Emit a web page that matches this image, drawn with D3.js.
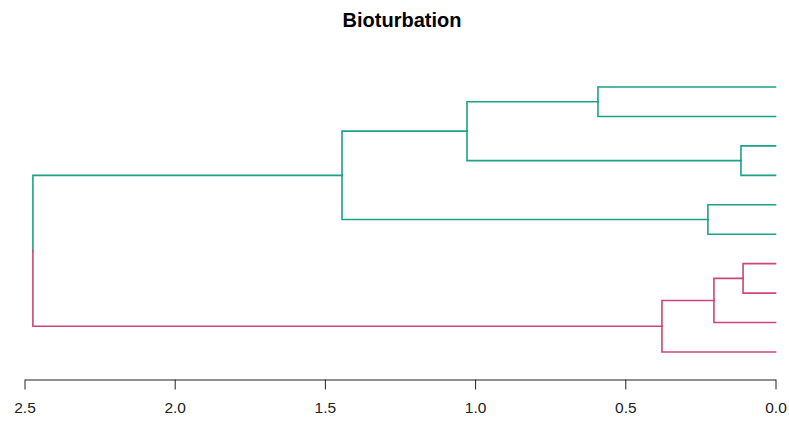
<!DOCTYPE html>
<html>
<head>
<meta charset="utf-8">
<script src="https://cdn.jsdelivr.net/npm/d3@7"></script>
<style>
  html, body { margin: 0; padding: 0; background: #fff; }
  svg { display: block; font-family: "Liberation Sans", Arial, sans-serif; }
</style>
</head>
<body>
<svg id="chart" width="789" height="422"></svg>
<script>
// Hierarchical clustering, hclust-style merge table.
// Negative entries are leaves (1..10), positive ones refer to earlier merge steps.
const mergeLeft   = [-1, -3, 1, -5, 3, -7, 6, 7, 5];
const mergeRight  = [-2, -4, 2, -6, 4, -8, -9, -10, 8];
const mergeHeight = [0.591, 0.115, 1.027, 0.225, 1.443, 0.108, 0.205, 0.378, 2.472];
const leafOrder   = [1, 2, 3, 4, 5, 6, 7, 8, 9, 10];
const leafCluster = [1, 1, 1, 1, 1, 1, 2, 2, 2, 2];
const clusterColors = ["#1FA187", "#CC4678"];
const tickValues  = [2.5, 2.0, 1.5, 1.0, 0.5, 0.0];
const title = "Bioturbation";

const svg = d3.select("#chart");
const x = d3.scaleLinear().domain([2.5, 0]).range([24.5, 775.5]);
const y = d3.scaleLinear().domain([1, leafOrder.length]).range([87, 352]);

// Build node objects from the merge table
function leafNode(id) {
  const pos = leafOrder.indexOf(id) + 1;
  return { leaf: true, id, height: 0, y: y(pos), cluster: leafCluster[id - 1] };
}
const merged = [];
function ref(v) { return v < 0 ? leafNode(-v) : merged[v - 1]; }
mergeLeft.forEach((l, i) => {
  const a = ref(l), b = ref(mergeRight[i]);
  merged.push({
    leaf: false, height: mergeHeight[i], children: [a, b],
    y: (a.y + b.y) / 2,
    cluster: a.cluster === b.cluster ? a.cluster : null
  });
});
const root = merged[merged.length - 1];

// Collect edges: each child hangs from its parent by a vertical + horizontal elbow
const edges = [];
(function walk(node, colorIdx) {
  if (!node.children) return;
  node.children.forEach(c => {
    const ci = c.cluster != null ? c.cluster : colorIdx;
    edges.push({ parent: node, child: c, color: ci != null ? clusterColors[ci - 1] : "#000" });
    walk(c, ci);
  });
})(root, null);

svg.append("g")
  .attr("fill", "none")
  .attr("stroke-width", 1.6)
  .selectAll("path")
  .data(edges)
  .join("path")
  .attr("stroke", d => d.color)
  .attr("stroke-linecap", "square")
  .attr("d", d => {
    const px = x(d.parent.height), cx = x(d.child.height);
    return `M${px},${d.parent.y}V${d.child.y}H${cx}`;
  });

// Height axis
const axis = d3.axisBottom(x)
  .tickValues(tickValues)
  .tickFormat(d3.format(".1f"))
  .tickSizeInner(10)
  .tickSizeOuter(0)
  .tickPadding(12);

const gAxis = svg.append("g")
  .attr("transform", "translate(0,379.5)")
  .call(axis);
gAxis.selectAll("path, line").attr("stroke", "#222").attr("stroke-width", 1);
gAxis.selectAll("text")
  .attr("fill", "#222")
  .style("font-size", "15.5px")
  .style("font-family", "'Liberation Sans', Arial, sans-serif");

svg.append("text")
  .attr("x", 402)
  .attr("y", 27)
  .attr("text-anchor", "middle")
  .style("font-size", "20px")
  .style("font-weight", "bold")
  .attr("fill", "#000")
  .text(title);
</script>
</body>
</html>
